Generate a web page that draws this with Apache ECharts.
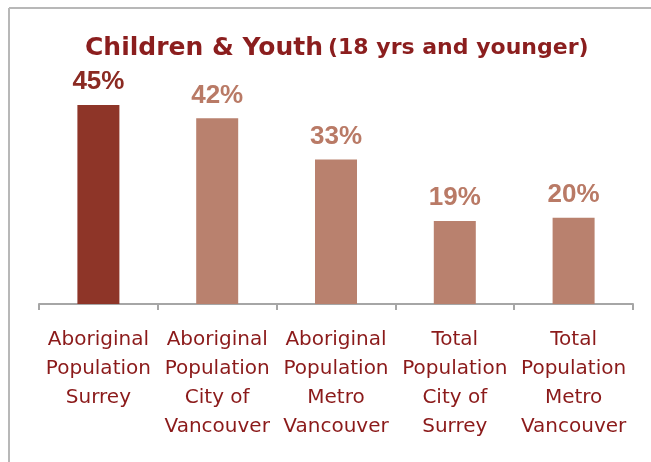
<!DOCTYPE html>
<html>
<head>
<meta charset="utf-8">
<script src="https://cdn.jsdelivr.net/npm/echarts@6/dist/echarts.min.js"></script>
<style>
  html, body { margin: 0; padding: 0; background: #fff; }
  #main { width: 651px; height: 462px; }
</style>
</head>
<body>
<div id="main"></div>
<script>
// data
const categories = [
  "Aboriginal\nPopulation\nSurrey",
  "Aboriginal\nPopulation\nCity of\nVancouver",
  "Aboriginal\nPopulation\nMetro\nVancouver",
  "Total\nPopulation\nCity of\nSurrey",
  "Total\nPopulation\nMetro\nVancouver",
];
const shares = [45, 42, 32.7, 18.8, 19.5];
const barColors = ["#8e3528", "#b9816e", "#b9816e", "#b9816e", "#b9816e"];
const labelColors = ["#8b2a22", "#b97a66", "#b97a66", "#b97a66", "#b97a66"];

const option = {
  animation: false,
  title: {
    left: 80,
    top: 31,
    text: "{a|Children & Youth} {b|(18 yrs and younger)}",
    textStyle: {
      rich: {
        a: { fontFamily: "DejaVu Sans", fontWeight: "bold", fontSize: 25, color: "#8b1e1e" },
        b: { fontFamily: "DejaVu Sans", fontWeight: "bold", fontSize: 22, color: "#8b1e1e" },
      },
    },
  },
  // frame around the slide box
  graphic: [
    { type: "line", shape: { x1: 9, y1: 8, x2: 651, y2: 8 }, style: { stroke: "#b8b8b8", lineWidth: 2 } },
    { type: "line", shape: { x1: 9, y1: 8, x2: 9, y2: 462 }, style: { stroke: "#b8b8b8", lineWidth: 2 } },
  ],
  grid: {
    left: 39,
    right: 18,
    top: 83,
    bottom: 158,
  },
  xAxis: {
    type: "category",
    data: categories,
    axisLine: { show: true, lineStyle: { color: "#a6a6a6", width: 2 } },
    axisTick: { show: true, alignWithLabel: false, length: 6, lineStyle: { color: "#a6a6a6", width: 2 } },
    axisLabel: {
      interval: 0,
      margin: 21,
      fontFamily: "DejaVu Sans",
      fontSize: 20,
      lineHeight: 29,
      color: "#8b1a1a",
      verticalAlign: "top",
    },
  },
  yAxis: {
    type: "value",
    min: 0,
    max: 50,
    show: false,
    splitLine: { show: false },
  },
  series: [
    {
      type: "bar",
      barWidth: 42,
      data: shares.map((v, i) => ({
        value: v,
        itemStyle: { color: barColors[i] },
        label: { color: labelColors[i] },
      })),
      label: {
        show: true,
        position: "top",
        distance: 10,
        fontFamily: "Liberation Sans",
        fontWeight: "bold",
        fontSize: 26,
        formatter: (p) => Math.round(p.value) + "%",
      },
    },
  ],
};

const myChart = echarts.init(document.getElementById("main"));
myChart.setOption(option);
</script>
</body>
</html>
